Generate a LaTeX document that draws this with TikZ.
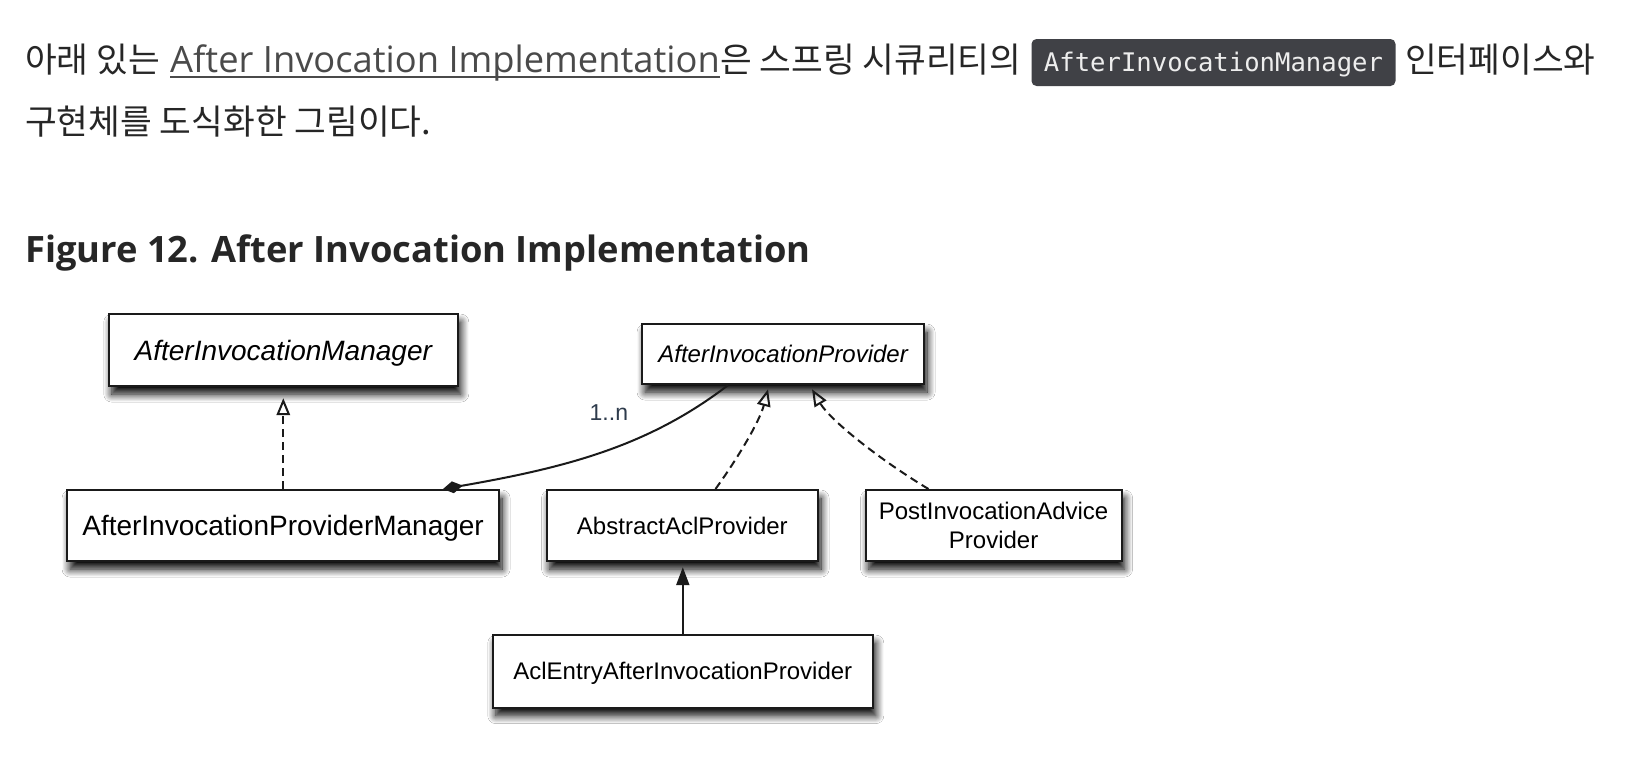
\documentclass[tikz,border=0pt]{standalone}
\usepackage{fontspec}
\setmainfont{Liberation Sans}
\newfontfamily\myko{Noto Sans CJK KR}
\newfontfamily\myos{Open Sans}
\newfontfamily\mymono{DejaVu Sans Mono}
\newfontfamily\myarial{Liberation Sans}
\usetikzlibrary{arrows.meta,shadows.blur}
\definecolor{bodytxt}{HTML}{262626}
\definecolor{linktxt}{HTML}{4A4A4A}
\definecolor{codebg}{HTML}{404146}
\definecolor{codetxt}{HTML}{EDEDED}
\definecolor{multtxt}{HTML}{2E3B4C}
\definecolor{edge}{HTML}{1A1A1A}
\begin{document}
\begin{tikzpicture}[x=1pt,y=-1pt,
  kotext/.style={font=\myko\fontsize{34.5}{41}\selectfont, text=bodytxt, inner sep=0pt, anchor=base west},
  linktext/.style={font=\myos\fontsize{36.3}{42}\selectfont, text=linktxt, inner sep=0pt, anchor=base west},
  linkline/.style={draw=linktxt, line width=2pt},
  codebox/.style={fill=codebg, rounded corners=5pt, text=codetxt, font=\mymono\fontsize{25.6}{30}\selectfont, minimum width=364pt, minimum height=47pt, inner sep=0pt, text height=17pt, text depth=0pt},
  headtext/.style={font=\myos\bfseries\fontsize{36.3}{43}\selectfont, text=bodytxt, inner sep=0pt, anchor=base west},
  box/.style={draw=edge, line width=2.2pt, fill=white, inner sep=0pt, anchor=north west,
    blur shadow={shadow xshift=3pt, shadow yshift=-8pt, shadow blur radius=8pt, shadow blur steps=12, shadow opacity=100}},
  bigtxt/.style={font=\myarial\fontsize{28}{33}\selectfont, text height=20pt, text depth=0pt},
  smalltxt/.style={font=\myarial\fontsize{24}{28.5}\selectfont, text height=17.2pt, text depth=0pt},
  twoline/.style={font=\myarial\fontsize{24}{28.5}\selectfont, align=center},
  realize/.style={draw=edge, line width=2pt, dash pattern=on 8pt off 5pt, -{Triangle[open,length=17pt,width=13.5pt]}},
  inherit/.style={draw=edge, line width=2pt, -{Triangle[length=18pt,width=13pt]}, shorten >=5pt},
  comp/.style={draw=edge, line width=2pt, {Diamond[length=20pt,width=12pt]}-},
  multlabel/.style={font=\myarial\fontsize{23}{27}\selectfont, text=multtxt, inner sep=0pt, anchor=base west}
]
\useasboundingbox[fill=white] (0,0) rectangle (1636,782);

% paragraph text
\node[kotext] (p1a) at (25,72.5) {아래 있는};
\node[linktext] (link) at (170,72.5) {After Invocation Implementation};
\draw[linkline] ([yshift=-4.5pt]link.base west) -- ([yshift=-4.5pt]link.base east);
\node[kotext] (p1b) at (720,72.5) {은 스프링 시큐리티의};
\node[codebox] (code) at (1213.5,62.5) {AfterInvocationManager};
\node[kotext] (p1c) at (1405,72.5) {인터페이스와};
\node[kotext] (p2) at (25,134.5) {구현체를 도식화한 그림이다.};

% heading
\node[headtext] (head) at (25,262) {Figure 12. After Invocation Implementation};

% boxes
\node[box, bigtxt, minimum width=349pt, minimum height=72pt] (aim) at (107.7,313) {\itshape AfterInvocationManager};
\node[box, smalltxt, minimum width=282pt, minimum height=60pt] (aip) at (641,323) {\itshape AfterInvocationProvider};
\node[box, bigtxt, minimum width=432pt, minimum height=71pt] (aipm) at (66,489) {AfterInvocationProviderManager};
\node[box, smalltxt, minimum width=271.5pt, minimum height=71pt] (abs) at (545.5,489) {AbstractAclProvider};
\node[box, twoline, minimum width=256pt, minimum height=71pt] (post) at (864.5,489) {PostInvocationAdvice\\Provider};
\node[box, smalltxt, minimum width=380pt, minimum height=72.5pt] (acl) at (491.7,634) {AclEntryAfterInvocationProvider};

% connectors
\draw[realize] (aim.south |- aipm.north) -- (aim.south) [shorten >=11pt];
\draw[comp] ([xshift=377pt]aipm.north west) .. controls (570,467) and (650,445) .. ([xshift=87pt]aip.south west);
\node[multlabel] (mult) at (589.5,420) {1..n};
\draw[realize] ([xshift=170pt]abs.north west) .. controls (740,455) and (760,420) .. ([xshift=127pt,yshift=-4pt]aip.south west);
\draw[realize] ([xshift=64pt]post.north west) .. controls (880,460) and (830,420) .. ([xshift=171pt,yshift=-4pt]aip.south west);
\draw[inherit] (acl.north) -- (acl.north |- abs.south);
\end{tikzpicture}
\end{document}
